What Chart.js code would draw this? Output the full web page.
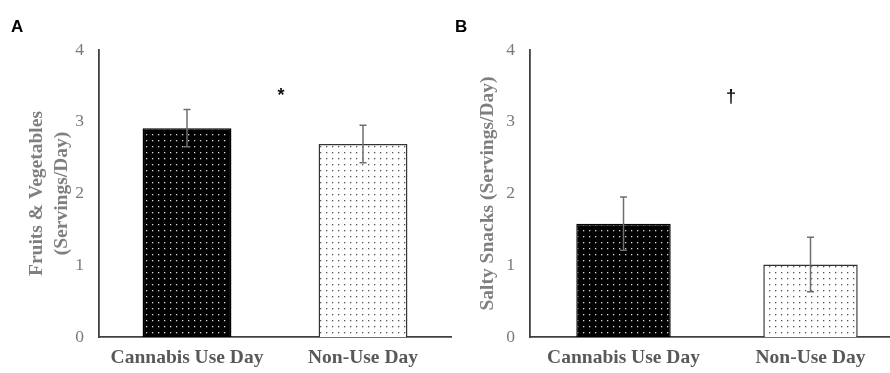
<!DOCTYPE html>
<html>
<head>
<meta charset="utf-8">
<script src="https://cdn.jsdelivr.net/npm/chart.js@4"></script>
<style>
  html, body { margin: 0; padding: 0; background: #fff; }
  body { width: 890px; height: 373px; overflow: hidden; position: relative; }
  .panel { position: absolute; top: 0; height: 373px; }
  #wrapA { left: 0; width: 452px; }
  #wrapB { left: 455px; width: 451px; }
  .letter { position: absolute; top: 17px; font: bold 17px "Liberation Sans", Arial, sans-serif; color: #000; }
</style>
</head>
<body>
<div class="panel" id="wrapA"><canvas id="chartA" width="452" height="373"></canvas></div>
<div class="panel" id="wrapB"><canvas id="chartB" width="451" height="373"></canvas></div>
<div class="letter" style="left:11px">A</div>
<div class="letter" style="left:455px">B</div>
<script>
var categories = ['Cannabis Use Day', 'Non-Use Day'];
var yTicks = [0, 1, 2, 3, 4];

var fruitVeg = [2.91, 2.69];
var fruitVegErr = [0.26, 0.26];

var saltySnacks = [1.58, 1.01];
var saltySnacksErr = [0.37, 0.38];

// significance marks: [text, x in category units, y value]
var markA = ['*', 1.034, 3.36];
var markB = ['\u2020', 1.075, 3.35];

var serif = '"Liberation Serif", "Times New Roman", serif';

function dotPattern(bg, dot) {
  var c = document.createElement('canvas');
  c.width = 6;
  c.height = 6;
  var g = c.getContext('2d');
  g.fillStyle = bg;
  g.fillRect(0, 0, 6, 6);
  g.fillStyle = dot;
  g.fillRect(2, 2, 1.3, 1.3);
  return g.createPattern(c, 'repeat');
}

var errorBars = {
  id: 'errorBars',
  afterDatasetsDraw: function (chart) {
    var ds = chart.data.datasets[0];
    var errs = ds.errors;
    var meta = chart.getDatasetMeta(0);
    var y = chart.scales.y;
    var ctx = chart.ctx;
    ctx.save();
    ctx.strokeStyle = '#6f6f6f';
    ctx.lineWidth = 1.5;
    meta.data.forEach(function (bar, i) {
      var top = y.getPixelForValue(ds.data[i] + errs[i]);
      var bot = y.getPixelForValue(ds.data[i] - errs[i]);
      ctx.beginPath();
      ctx.moveTo(bar.x, top);
      ctx.lineTo(bar.x, bot);
      ctx.moveTo(bar.x - 3.5, top);
      ctx.lineTo(bar.x + 3.5, top);
      ctx.moveTo(bar.x - 3.5, bot);
      ctx.lineTo(bar.x + 3.5, bot);
      ctx.stroke();
    });
    var m = chart.options.plugins.errorBars.mark;
    ctx.fillStyle = '#111';
    ctx.font = 'bold 18px "Liberation Sans", Arial, sans-serif';
    ctx.textAlign = 'center';
    ctx.textBaseline = 'middle';
    ctx.fillText(m[0], chart.scales.x.getPixelForValue(m[1] - 0.5), y.getPixelForValue(m[2]));
    ctx.restore();
  }
};

function makeChart(id, values, errs, title, yWidth, titlePad, mark, rightPad) {
  return new Chart(document.getElementById(id), {
    type: 'bar',
    data: {
      labels: categories,
      datasets: [{
        data: values,
        errors: errs,
        backgroundColor: [dotPattern('#000', '#d8d8d8'), dotPattern('#fff', '#555')],
        borderColor: ['#000', '#333'],
        borderWidth: 1.5,
        borderSkipped: 'bottom',
        categoryPercentage: 1,
        barPercentage: 0.505
      }]
    },
    options: {
      responsive: false,
      animation: false,
      events: [],
      layout: { padding: { top: 50, right: rightPad, left: 0, bottom: 0 } },
      plugins: {
        legend: { display: false },
        tooltip: { enabled: false },
        errorBars: { mark: mark }
      },
      scales: {
        x: {
          grid: { display: false, drawTicks: false },
          border: { display: true, color: '#404040', width: 1.8 },
          ticks: { padding: 9, color: '#595959', font: { family: serif, size: 19.5, weight: 'bold' } },
          afterFit: function (s) { s.height = 36; }
        },
        y: {
          min: 0,
          max: 4,
          afterBuildTicks: function (s) { s.ticks = yTicks.map(function (v) { return { value: v }; }); },
          grid: { display: false, drawTicks: false },
          border: { display: true, color: '#404040', width: 1.8 },
          ticks: { padding: 15, color: '#7a7a7a', font: { family: serif, size: 17.5 } },
          title: {
            display: true,
            text: title,
            color: '#7f7f7f',
            font: { family: serif, size: 19.5, weight: 'bold', lineHeight: 1.3 },
            padding: { top: titlePad, bottom: 0 }
          },
          afterFit: function (s) { s.width = yWidth; }
        }
      }
    },
    plugins: [errorBars]
  });
}

makeChart('chartA', fruitVeg, fruitVegErr, ['Fruits & Vegetables', '(Servings/Day)'], 99, 24, markA, 1);
makeChart('chartB', saltySnacks, saltySnacksErr, 'Salty Snacks (Servings/Day)', 75, 20, markB, 2);
</script>
</body>
</html>
